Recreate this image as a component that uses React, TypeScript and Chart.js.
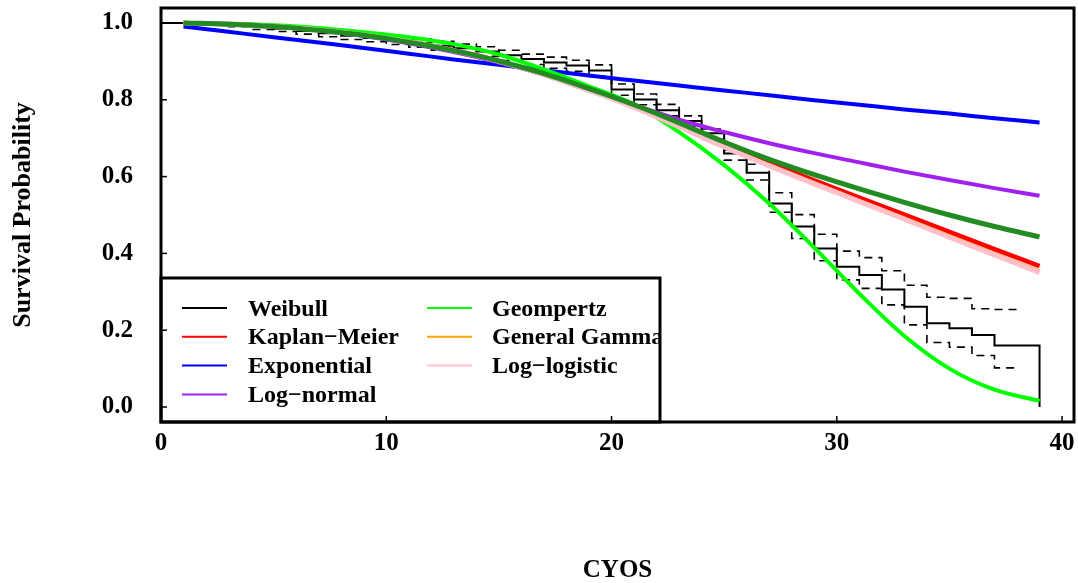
import React, { useEffect, useRef } from "react";
import { Chart, registerables } from "chart.js";

Chart.register(...registerables);

// ---- Kaplan–Meier step estimate (black) and its confidence limits (dashed) ----
const kmTimes = [0, 1, 2, 3, 4, 5, 6, 7, 8, 9, 10, 11, 12, 13, 14, 15, 16, 17, 18, 19, 20, 21, 22, 23, 24, 25, 26, 27, 28, 29, 30, 31, 32, 33, 34, 35, 36, 37, 38, 39];
const kmSurv = [1.0, 1.0, 0.998, 0.995, 0.99, 0.985, 0.979, 0.973, 0.967, 0.961, 0.955, 0.948, 0.941, 0.934, 0.926, 0.916, 0.906, 0.897, 0.889, 0.876, 0.827, 0.801, 0.773, 0.745, 0.713, 0.66, 0.61, 0.53, 0.47, 0.413, 0.365, 0.344, 0.306, 0.261, 0.218, 0.205, 0.1875, 0.16, 0.16, 0.0];
const ciTimes = [0, 1, 2, 3, 4, 5, 6, 7, 8, 9, 10, 11, 12, 13, 14, 15, 16, 17, 18, 19, 20, 21, 22, 23, 24, 25, 26, 27, 28, 29, 30, 31, 32, 33, 34, 35, 36, 37, 38];
const ciUpper = [1.0, 1.0, 1.0, 0.999, 0.996, 0.991, 0.986, 0.981, 0.976, 0.97, 0.965, 0.958, 0.952, 0.945, 0.938, 0.929, 0.919, 0.911, 0.903, 0.891, 0.841, 0.815, 0.788, 0.758, 0.724, 0.669, 0.632, 0.558, 0.501, 0.45, 0.406, 0.389, 0.355, 0.317, 0.286, 0.283, 0.256, 0.254, 0.254];
const ciLower = [1.0, 1.0, 0.994, 0.99, 0.983, 0.978, 0.971, 0.964, 0.957, 0.951, 0.944, 0.937, 0.929, 0.921, 0.913, 0.902, 0.892, 0.882, 0.874, 0.861, 0.812, 0.787, 0.758, 0.73, 0.697, 0.643, 0.591, 0.507, 0.439, 0.381, 0.331, 0.309, 0.266, 0.214, 0.168, 0.156, 0.134, 0.102, 0.102];

// ---- Fitted parametric curves ----
const fitTimes = [1, 3, 5, 7, 9, 11, 13, 15, 17, 19, 21, 23, 25, 27, 29, 31, 33, 35, 37, 39];
const redSurv = [1.0, 0.997, 0.991, 0.982, 0.969, 0.952, 0.929, 0.901, 0.866, 0.826, 0.782, 0.733, 0.682, 0.635, 0.59, 0.545, 0.501, 0.456, 0.411, 0.367];
const expSurv = [0.991, 0.977, 0.963, 0.949, 0.935, 0.92, 0.905, 0.891, 0.877, 0.863, 0.85, 0.837, 0.824, 0.812, 0.799, 0.787, 0.775, 0.764, 0.752, 0.741];
const lognormSurv = [1.0, 0.998, 0.992, 0.981, 0.966, 0.947, 0.924, 0.897, 0.865, 0.824, 0.787, 0.748, 0.716, 0.687, 0.661, 0.637, 0.613, 0.591, 0.57, 0.55];
const gompSurv = [1.0, 0.998, 0.994, 0.987, 0.976, 0.963, 0.945, 0.918, 0.879, 0.835, 0.788, 0.716, 0.63, 0.53, 0.415, 0.295, 0.185, 0.1, 0.045, 0.016];
const gengammaSurv = [1.0, 0.997, 0.991, 0.982, 0.969, 0.951, 0.928, 0.9, 0.865, 0.825, 0.781, 0.731, 0.678, 0.63, 0.583, 0.537, 0.491, 0.445, 0.399, 0.353];
const loglogSurv = [1.0, 0.997, 0.991, 0.982, 0.969, 0.951, 0.928, 0.9, 0.865, 0.825, 0.78, 0.73, 0.677, 0.628, 0.581, 0.535, 0.489, 0.442, 0.396, 0.35];
const greenSurv = [1.0, 0.997, 0.991, 0.981, 0.968, 0.95, 0.928, 0.901, 0.868, 0.829, 0.787, 0.74, 0.69, 0.645, 0.605, 0.568, 0.533, 0.5, 0.47, 0.443];

// ---- Axes ----
const xTicks = [0, 10, 20, 30, 40];
const yTicks = [0, 0.2, 0.4, 0.6, 0.8, 1.0];
const xTitle = "CYOS";
const yTitle = "Survival Probability";

// ---- Legend ----
const legendLabels = ["Weibull", "Kaplan\u2212Meier", "Exponential", "Log\u2212normal", "Geompertz", "General Gamma", "Log\u2212logistic"];
const legendColors = ["#000000", "#FF0000", "#0000FF", "#A020F0", "#00FF00", "#FFA500", "#FFC0CB"];

const FONT = "'Liberation Serif', 'Times New Roman', Times, serif";

const toPts = (xs: number[], ys: number[]) => xs.map((x, i) => ({ x, y: ys[i] }));

const curve = (label: string, ys: number[], color: string, width: number, order: number) => ({
  label,
  data: toPts(fitTimes, ys),
  borderColor: color,
  backgroundColor: color,
  borderWidth: width,
  pointRadius: 0,
  fill: false,
  cubicInterpolationMode: "monotone" as const,
  order,
});

const framePlugin = {
  id: "framePlugin",
  afterDatasetsDraw(chart: any) {
    const { ctx, chartArea: a } = chart;
    // legend box
    const left = a.left;
    const top = 278;
    const right = 660;
    const bottom = a.bottom;
    ctx.save();
    ctx.fillStyle = "#ffffff";
    ctx.fillRect(left, top, right - left, bottom - top);
    ctx.beginPath();
    ctx.rect(left, top, right - left, bottom - top);
    ctx.clip();
    ctx.font = `bold 24px ${FONT}`;
    ctx.textBaseline = "alphabetic";
    ctx.textAlign = "left";
    const rowsPerCol = 4;
    legendLabels.forEach((lab, i) => {
      const col = Math.floor(i / rowsPerCol);
      const row = i % rowsPerCol;
      const lx = col === 0 ? 182 : 427;
      const tx = col === 0 ? 248 : 492;
      const ly = 308 + row * 28.8;
      ctx.strokeStyle = legendColors[i];
      ctx.lineWidth = 2;
      ctx.beginPath();
      ctx.moveTo(lx, ly);
      ctx.lineTo(lx + 45, ly);
      ctx.stroke();
      ctx.fillStyle = "#000";
      ctx.fillText(lab, tx, ly + 7.5);
    });
    ctx.restore();
    ctx.save();
    ctx.strokeStyle = "#000";
    ctx.lineWidth = 3;
    ctx.strokeRect(left, top, right - left, bottom - top);
    ctx.restore();
  },
  afterDraw(chart: any) {
    const { ctx, chartArea: a, scales } = chart;
    ctx.save();
    ctx.strokeStyle = "#000";
    ctx.lineWidth = 1.5;
    yTicks.forEach((v) => {
      const py = scales.y.getPixelForValue(v);
      ctx.beginPath();
      ctx.moveTo(a.left, py);
      ctx.lineTo(a.left + 6, py);
      ctx.stroke();
    });
    xTicks.forEach((v) => {
      const px = scales.x.getPixelForValue(v);
      ctx.beginPath();
      ctx.moveTo(px, a.bottom);
      ctx.lineTo(px, a.bottom - 6);
      ctx.stroke();
    });
    ctx.lineWidth = 3;
    ctx.strokeRect(a.left, a.top, a.right - a.left, a.bottom - a.top);
    ctx.restore();
  },
};

export default function App() {
  const ref = useRef<HTMLCanvasElement>(null);

  useEffect(() => {
    if (!ref.current) return;
    const chart = new Chart(ref.current, {
      type: "line",
      data: {
        datasets: [
          {
            label: "KM",
            data: toPts(kmTimes, kmSurv),
            borderColor: "#000",
            borderWidth: 2,
            pointRadius: 0,
            fill: false,
            stepped: true,
            order: 20,
          } as any,
          {
            label: "KM upper",
            data: toPts(ciTimes, ciUpper),
            borderColor: "#000",
            borderWidth: 1.6,
            borderDash: [8, 6],
            pointRadius: 0,
            fill: false,
            stepped: true,
            order: 19,
          },
          {
            label: "KM lower",
            data: toPts(ciTimes, ciLower),
            borderColor: "#000",
            borderWidth: 1.6,
            borderDash: [8, 6],
            pointRadius: 0,
            fill: false,
            stepped: true,
            order: 18,
          },
          curve("Kaplan\u2212Meier", redSurv, "#FF0000", 4.5, 10),
          curve("Exponential", expSurv, "#0000FF", 4, 9),
          curve("Log\u2212normal", lognormSurv, "#A020F0", 4, 8),
          curve("Geompertz", gompSurv, "#00FF00", 4, 7),
          curve("General Gamma", gengammaSurv, "#FFA500", 4, 6),
          curve("Log\u2212logistic", loglogSurv, "#FFC0CB", 5, 5),
          curve("", greenSurv, "#228B22", 5, 1),
        ],
      },
      options: {
        responsive: false,
        devicePixelRatio: 1,
        animation: false,
        layout: { padding: { top: 8, right: 4, left: 0, bottom: 0 } },
        plugins: { legend: { display: false }, tooltip: { enabled: false } },
        scales: {
          x: {
            type: "linear",
            min: 0,
            max: 40.53,
            grid: { display: false, drawTicks: false },
            border: { display: false },
            afterBuildTicks: (s: any) => {
              s.ticks = xTicks.map((v) => ({ value: v }));
            },
            afterFit: (s: any) => {
              s.height = 161;
              s.paddingLeft = 0;
              s.paddingRight = 0;
            },
            ticks: {
              padding: 7,
              maxRotation: 0,
              autoSkip: false,
              color: "#000",
              font: { family: FONT, size: 25, weight: "bold" },
              callback: (v: any) => String(v),
            },
            title: {
              display: true,
              text: xTitle,
              color: "#000",
              padding: { top: 0, bottom: -3 },
              font: { family: FONT, size: 25, weight: "bold" },
            },
          },
          y: {
            type: "linear",
            min: -0.039,
            max: 1.039,
            grid: { display: false, drawTicks: false },
            border: { display: false },
            afterBuildTicks: (s: any) => {
              s.ticks = yTicks.map((v) => ({ value: v }));
            },
            afterFit: (s: any) => {
              s.width = 161;
              s.paddingTop = 0;
              s.paddingBottom = 0;
            },
            ticks: {
              padding: 28,
              autoSkip: false,
              color: "#000",
              font: { family: FONT, size: 25, weight: "bold" },
              callback: (v: any) => Number(v).toFixed(1),
            },
            title: {
              display: true,
              text: yTitle,
              color: "#000",
              padding: { top: 8, bottom: 0 },
              font: { family: FONT, size: 26, weight: "bold" },
            },
          },
        },
      } as any,
      plugins: [framePlugin],
    });
    return () => chart.destroy();
  }, []);

  return (
    <div style={{ position: "absolute", left: 0, top: 0, width: 1078, height: 583, background: "#fff" }}>
      <canvas ref={ref} width={1078} height={583} style={{ display: "block", width: 1078, height: 583 }} />
    </div>
  );
}
